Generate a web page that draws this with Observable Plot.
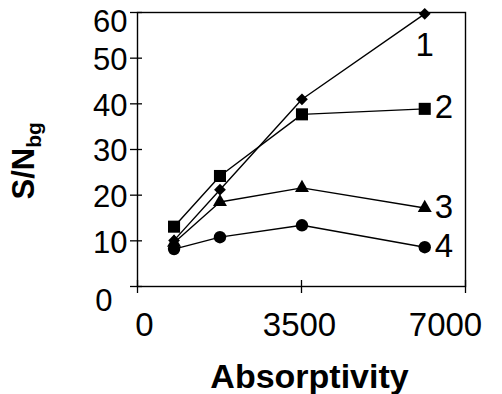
<!DOCTYPE html>
<html><head><meta charset="utf-8">
<script src="https://cdn.jsdelivr.net/npm/d3@7"></script>
<script src="https://cdn.jsdelivr.net/npm/@observablehq/plot@0.6"></script>
<style>body{margin:0;background:#fff}</style>
</head><body><div id="chart"></div>
<script>
const absorptivity = [780, 1760, 3510, 6130];
const series1 = [10.1, 21.2, 41.0, 59.7];
const series2 = [13.1, 24.2, 37.7, 38.9];
const series3 = [9.6, 18.5, 21.6, 17.2];
const series4 = [8.2, 10.8, 13.4, 8.6];
const seriesNames = ["1", "2", "3", "4"];
const seriesSymbols = ["diamond2", "square", "triangle", "circle"];
const xTicks = [0, 3500, 7000];
const yTicks = [0, 10, 20, 30, 40, 50, 60];
const xLabel = "Absorptivity";
const yLabel = "S/Nbg";

const allSeries = [series1, series2, series3, series4];
const data = allSeries.flatMap((vals, i) => vals.map((v, j) => ({series: seriesNames[i], x: absorptivity[j], y: v})));
const lastX = absorptivity[absorptivity.length - 1];
const last = data.filter(d => d.x === lastX);
const symbolR = {"1": 5.3, "2": 6.8, "3": 5.2, "4": 6.2};

const font = "Liberation Sans, Arial, Helvetica, sans-serif";
const fmt = d => String(d);
const tickLab = {tickSize: 0, label: null, fontSize: 31, tickFormat: fmt};

const plot = Plot.plot({
  width: 502, height: 394,
  marginLeft: 137, marginRight: 37, marginTop: 12, marginBottom: 108,
  style: {fontFamily: font, color: "black", background: "white"},
  x: {domain: [0, 7000]},
  y: {domain: [0, 60]},
  marks: [
    Plot.frame({stroke: "black", strokeWidth: 1.4}),
    Plot.axisY(yTicks, {tickSize: 12, dx: 5, text: null, label: null, strokeWidth: 1.3}),
    Plot.axisY([10, 20, 30, 40, 50], {...tickLab, tickPadding: 10, dy: 2}),
    Plot.axisY([60], {...tickLab, tickPadding: 10, dy: 10}),
    Plot.axisY([0], {...tickLab, tickPadding: 25, dy: 15}),
    Plot.axisX(xTicks, {tickSize: 13, dy: -6, text: null, label: null, strokeWidth: 1.3}),
    Plot.axisX([0], {...tickLab, fontSize: 33, tickPadding: 26, dx: 7}),
    Plot.axisX([3500], {...tickLab, fontSize: 33, tickPadding: 26, dx: -2}),
    Plot.axisX([7000], {...tickLab, fontSize: 33, tickPadding: 26, dx: -20}),
    Plot.text([xLabel], {frameAnchor: "bottom", text: d => d, dx: 8, dy: 101, lineAnchor: "bottom", fontSize: 34, fontWeight: "bold"}),
    Plot.text([yLabel], {frameAnchor: "left", text: d => d, rotate: -90, dx: -113, dy: 50, fontSize: 31, fontWeight: "bold"}),
    Plot.line(data, {x: "x", y: "y", z: "series", stroke: "black", strokeWidth: 1.4}),
    ...seriesNames.map((s, i) => Plot.dot(data.filter(d => d.series === s), {x: "x", y: "y", symbol: seriesSymbols[i], r: symbolR[s], fill: "black", stroke: "none"})),
    Plot.text(last.filter(d => d.series === "1"), {x: "x", y: "y", text: "series", dy: 32, fontSize: 33}),
    Plot.text(last.filter(d => d.series !== "1"), {x: "x", y: "y", text: "series", dx: 10, dy: -1, textAnchor: "start", fontSize: 33})
  ]
});

plot.querySelectorAll("text").forEach(t => {
  if (t.textContent === yLabel) {
    const target = t.querySelector("tspan") || t;
    target.textContent = "S/N";
    const sub = document.createElementNS("http://www.w3.org/2000/svg", "tspan");
    sub.setAttribute("font-size", "21");
    sub.setAttribute("dy", "7");
    sub.textContent = "bg";
    target.appendChild(sub);
  }
});
document.getElementById("chart").appendChild(plot);
</script>
</body></html>
